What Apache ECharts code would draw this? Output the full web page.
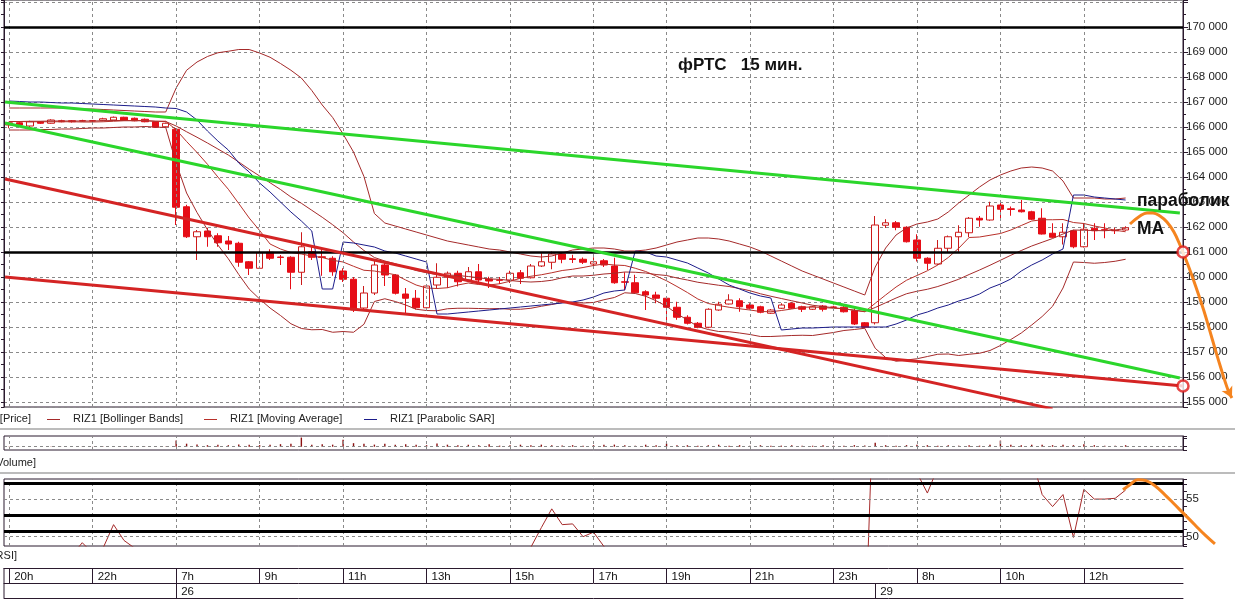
<!DOCTYPE html>
<html><head><meta charset="utf-8">
<script src="https://cdn.jsdelivr.net/npm/echarts@6/dist/echarts.min.js"></script>
<style>html,body{margin:0;padding:0;background:#fff}#c{width:1235px;height:600px}</style>
</head><body><div id="c"></div>
<script>
// ---------- categories (15-minute bars) ----------
const categories = [
'23 20:00','23 20:15','23 20:30','23 20:45','23 21:00','23 21:15','23 21:30','23 21:45','23 22:00','23 22:15','23 22:30','23 22:45','23 23:00','23 23:15','23 23:30','23 23:45',
'26 07:00','26 07:15','26 07:30','26 07:45','26 08:00','26 08:15','26 08:30','26 08:45','26 09:00','26 09:15','26 09:30','26 09:45','26 10:00','26 10:15','26 10:30','26 10:45',
'26 11:00','26 11:15','26 11:30','26 11:45','26 12:00','26 12:15','26 12:30','26 12:45','26 13:00','26 13:15','26 13:30','26 13:45','26 14:00','26 14:15','26 14:30','26 14:45',
'26 15:00','26 15:15','26 15:30','26 15:45','26 16:00','26 16:15','26 16:30','26 16:45','26 17:00','26 17:15','26 17:30','26 17:45','26 18:00','26 18:15','26 18:30',
'26 19:00','26 19:15','26 19:30','26 19:45','26 20:00','26 20:15','26 20:30','26 20:45','26 21:00','26 21:15','26 21:30','26 21:45','26 22:00','26 22:15','26 22:30','26 22:45',
'26 23:00','26 23:15','26 23:30','26 23:45',
'29 07:00','29 07:15','29 07:30','29 07:45','29 08:00','29 08:15','29 08:30','29 08:45','29 09:00','29 09:15','29 09:30','29 09:45','29 10:00','29 10:15','29 10:30','29 10:45',
'29 11:00','29 11:15','29 11:30','29 11:45','29 12:00','29 12:15','29 12:30','29 12:45','29 13:00',
'29 13:15','29 13:30','29 13:45','29 14:00','29 14:15'
];
const hourMarks = ['23 20:00','23 22:00','26 07:00','26 09:00','26 11:00','26 13:00','26 15:00','26 17:00','26 19:00','26 21:00','26 23:00','29 08:00','29 10:00','29 12:00'];
const dayMarks = ['26 07:00','29 07:00'];

// ---------- price bars [open, close, low, high] ----------
const ohlc = [
[166080,166170,165950,166210],[166170,166080,166040,166220],[166040,166210,166000,166250],[166210,166150,166120,166240],
[166150,166280,166130,166310],[166250,166210,166190,166290],[166250,166210,166180,166280],[166250,166240,166220,166290],
[166250,166240,166210,166280],[166270,166330,166250,166370],[166280,166390,166260,166420],[166390,166280,166250,166410],
[166350,166250,166230,166380],[166310,166210,166190,166340],[166210,165990,165960,166240],[166010,166150,165980,166180],
[165910,162790,162080,165960],[162810,161610,161560,162890],[161610,161810,160680,161880],[161840,161610,161210,161970],
[161650,161370,161210,161750],[161440,161320,161080,161640],[161350,160590,160410,161410],[160610,160350,160080,160640],
[160350,160970,160330,161090],[160990,160750,160680,161110],[160800,160780,160480,160880],[160790,160190,159510,160830],
[160190,161210,159680,161790],[161010,160790,160680,161280],[160810,160780,160050,161170],[160750,160210,160050,160830],
[160240,159910,159800,160350],[159910,158680,158600,160000],[158760,159360,158700,159640],[159360,160480,159280,160640],
[160480,160080,159640,160600],[160080,159350,159300,160120],[159320,159150,158560,159560],[159150,158770,158700,159480],
[158770,159640,158700,159720],[159680,159990,159560,160550],[159990,160150,159560,160220],[160150,159810,159620,160250],
[159880,160210,159800,160400],[160210,159880,159800,160520],[159920,159840,159560,160010],[159880,159870,159720,160000],
[159880,160150,159760,160250],[160170,159950,159720,160280],[159970,160440,159940,160520],[160440,160610,160400,160950],
[160590,160920,160310,161020],[160920,160710,160550,161000],[160730,160700,160560,160890],[160710,160590,160520,160780],
[160520,160610,160400,160790],[160650,160480,160400,160720],[160440,159770,159730,160770],[159810,159790,159470,160190],
[159770,159370,159330,160090],[159410,159280,158680,159470],[159280,159150,158950,159410],[159150,158790,158210,159190],
[158790,158390,158290,159010],[158390,158150,158100,158470],[158150,157990,157950,158200],[157990,158710,157950,158750],
[158680,158910,158650,159010],[158920,159080,158900,159310],[159050,158810,158610,159150],[158880,158750,158700,158950],
[158810,158590,158550,158850],[158550,158680,158520,158720],[158750,158880,158720,158950],[158950,158750,158720,158990],
[158810,158710,158600,158850],[158710,158810,158680,158850],[158840,158710,158620,158880],[158800,158790,158750,158850],
[158790,158610,158580,158840],[158650,158120,158080,158800],[158170,157990,157950,158200],[158170,162080,158100,162440],
[162070,162170,161960,162310],[162170,161990,161870,162240],[161990,161410,161380,162030],[161480,160750,160620,161710],
[160750,160550,160280,160790],[160520,161150,160480,161480],[161150,161610,160980,161660],[161610,161790,161010,162070],
[161770,162350,161590,162400],[162350,162280,162010,162440],[162280,162840,162250,163010],[162880,162710,162350,163080],
[162730,162700,162450,162820],[162680,162610,162580,163080],[162610,162310,162280,162650],[162350,161720,161700,162750],
[161750,161590,161560,162150],[161610,161790,161300,162150],[161850,161210,161150,161890],[161210,161910,161180,162150],
[161950,161850,161480,162150],[161890,161880,161550,162150],[161860,161850,161720,161970],[161880,161970,161850,162030]
];

// ---------- indicators ----------
const bbUpper = [166760,166760,166760,166760,166760,166760,166740,166720,166720,166700,166680,166660,166640,166620,166600,166600,
167560,168270,168600,168820,168970,169030,169100,169100,168960,168790,168540,168270,167960,167460,166880,166380,
165720,165000,164020,162540,162160,162040,161920,161800,161680,161560,161440,161360,161280,161200,161120,161080,
161000,160920,160840,160800,160840,160960,161080,161120,161160,161160,161120,161040,161040,161080,161160,161280,
161400,161480,161560,161560,161520,161440,161320,161200,161040,160840,160640,160440,160240,160080,159920,159760,
159600,159440,159280,160400,161160,161680,161960,162120,162200,162320,162600,162960,163280,163600,163880,164080,
164240,164360,164400,164360,164240,163840,163160,163160,163160,163120,163120,163160];
const bbMiddle = [166220,166220,166230,166230,166240,166240,166240,166240,166240,166250,166260,166260,166250,166250,166230,166220,
166040,165810,165590,165360,165120,164880,164600,164310,164040,163770,163500,163200,162950,162670,162390,162090,
161770,161400,161060,160780,160640,160530,160400,160260,160170,160100,160080,160060,160020,159970,159920,159910,
159860,159820,159800,159820,159870,159970,160040,160040,160070,160120,160150,160200,160190,160160,160100,160060,
159960,159880,159790,159730,159670,159620,159540,159450,159330,159230,159140,159050,158960,158870,158820,158770,
158730,158670,158620,158780,158970,159160,159330,159430,159510,159620,159760,159910,160100,160280,160470,160670,
160870,161060,161240,161390,161540,161720,161880,161870,161860,161850,161880,161940];
const bbLower = [165880,165880,165880,165900,165900,165920,165920,165940,165960,165960,165980,166000,166000,166020,166000,165980,
164560,163360,162580,161890,161280,160730,160100,159520,159120,158760,158460,158130,157940,157890,157900,157790,
157820,157790,158110,159020,159130,159020,158880,158710,158660,158650,158730,158750,158750,158740,158730,158740,
158710,158710,158750,158830,158900,158980,158990,158960,158980,159090,159180,159370,159340,159230,159050,158830,
158530,158280,158020,157900,157820,157810,157760,157700,157620,157620,157640,157660,157670,157660,157720,157780,
157860,157900,157950,157150,156780,156630,156680,156730,156820,156910,156920,156860,156910,156950,157060,157260,
157500,157760,158080,158420,158830,159560,160600,160580,160550,160580,160630,160710];
const maLine = [166220,166220,166210,166210,166210,166210,166210,166200,166200,166210,166230,166250,166260,166260,166230,166230,
165890,165420,164980,164510,164000,163510,162940,162360,161860,161320,161120,160980,160920,160840,160780,160670,
160600,160430,160270,160240,160170,160090,159880,159680,159560,159540,159570,159680,159760,159700,159680,159730,
159830,159950,160030,160090,160170,160260,160310,160380,160460,160520,160480,160460,160350,160220,160040,159850,
159620,159380,159120,158940,158860,158790,158730,158680,158620,158610,158660,158720,158790,158800,158780,158750,
158730,158670,158610,158950,159280,159600,159870,160060,160250,160480,160780,161150,161580,161600,161670,161740,
161880,162060,162240,162290,162290,162300,162180,162140,162040,161960,161870,161810];
const sarLine = [167040,167020,167000,167000,166980,166960,166960,166940,166920,166900,166880,166860,166840,166820,166800,166760,
166740,166600,166280,165840,165440,165080,164560,164200,163760,163400,163000,162600,162240,161840,159520,159520,
161400,161360,161280,161200,161040,160960,160840,160720,160600,158520,158520,158560,158600,158640,158680,158720,
158760,158800,158840,158880,158920,158960,159000,159080,159200,159360,159440,159480,161040,161000,160840,160800,
160680,160560,160360,160160,159920,159680,159520,159360,159240,159160,157880,157920,157960,157960,157980,158000,
158000,158000,158000,158000,158000,158120,158280,158480,158600,158760,158880,159040,159160,159320,159560,159720,
159920,160240,160480,160680,160920,161120,163280,163280,163200,163160,163120,163080];
const volume = [40,25,35,30,45,20,30,25,35,30,40,30,25,35,60,40,
1450,690,480,350,470,340,520,430,360,450,580,700,2100,440,560,470,
1620,810,700,480,690,450,560,430,350,720,460,330,470,340,580,240,
350,460,330,470,340,250,350,230,340,470,480,350,230,460,340,700,
350,340,230,360,470,240,350,220,340,230,240,350,230,220,340,230,
240,360,250,930,350,240,360,470,350,240,340,230,350,240,460,1400,
470,340,460,470,350,460,340,580,350,230,240,347];
const rsi = [45.0,44.2,46.1,45.3,47.2,46.0,47.5,49.2,47.8,48.5,51.6,49.5,48.5,46.4,41.2,44.6,
18.5,15.2,19.8,18.6,17.4,17.1,14.3,13.6,24.5,23.1,23.6,20.8,34.2,32.0,31.9,28.7,
27.2,22.0,29.4,39.6,37.2,33.1,32.2,30.6,38.8,41.5,42.7,40.6,43.8,41.9,41.6,42.0,
45.1,43.9,48.6,51.2,53.7,51.6,51.7,50.0,50.6,48.7,42.3,42.5,39.4,38.8,37.9,35.5,
33.1,31.8,31.0,39.7,41.8,43.5,41.2,40.7,39.4,40.8,42.9,41.6,41.2,42.3,41.2,42.1,
40.4,36.4,35.4,75.2,75.6,72.4,63.8,58.5,55.8,59.2,62.5,63.7,67.3,66.4,69.5,67.8,
67.6,66.5,60.5,55.6,54.0,55.6,49.9,56.3,55.0,55.0,55.1,56.2];

// ---------- levels & hand-drawn annotations (bar index, value) ----------
const priceLevels = [170000, 161000];
const rsiLevels = [57.14, 52.8, 50.67];
const rsiGridLevels = [55, 50];
const lastPrice = 161970;
const lastVolume = 347;
const greenLine1 = [[-0.4,167000],[112.2,162560]];
const greenLine2 = [[-0.4,166160],[112.2,155960]];
const redLine1 = [[-0.4,163920],[100.0,154725]];
const redLine2 = [[-0.4,160000],[112.5,155640]];
const orangePrice = [[107.42,162120],[108.38,162440],[109.05,162560],[109.62,162560],[110.29,162440],[110.96,162200],[111.63,161800],[112.21,161280],[112.98,160480],[113.74,159600],[114.51,158640],[115.27,157560],[116.04,156480],[116.81,155480],[117.19,155160]];
const orangeRsi = [[106.75,56.24],[107.42,56.91],[108.18,57.58],[108.95,57.45],[109.81,56.78],[110.77,55.57],[111.73,54.24],[112.69,52.9],[113.65,51.56],[114.6,50.23],[115.56,49.03]];
const circlePoints = [[112.5,161000],[112.5,155640]];

// ---------- layout ----------
const L = {left:4, plotW:1179, overW:1231, mainTop:0, mainH:407, volTop:436, volH:14, rsiTop:479, rsiH:67,
           priceMin:154800, priceMax:171080, rsiMin:48.76, rsiMax:57.67, volMin:-760, volMax:2460};
const N = categories.length;
const overMax = -0.5 + L.overW * N / L.plotW;
const FRAME = '#2b1a2e', GRIDC = '#8a8a8a';
const BB = '#a52a2a', MA = '#b8302a', SAR = '#1c1c8a', ORANGE = '#f5841f';
const fmtPrice = v => Math.floor(v/1000) + ' ' + String(Math.round(v%1000)).padStart(3,'0');

const chart = echarts.init(document.getElementById('c'), null, {renderer:'canvas'});
const dashV = hourMarks.map(c => ({xAxis: c}));
const catAxisBase = {type:'category', data:categories, boundaryGap:true};
const orangePriceData = orangePrice.map((p, i) => i === orangePrice.length - 1
  ? {value:p, symbol:'arrow', symbolSize:[9,11], symbolRotate:-153, itemStyle:{color:ORANGE}}
  : {value:p, symbol:'none'});

const option = {
  animation:false,
  backgroundColor:'#fff',
  textStyle:{fontFamily:'Liberation Sans, Arial, sans-serif'},
  grid:[
    {left:L.left, top:L.mainTop, width:L.plotW, height:L.mainH, show:true, borderColor:FRAME, borderWidth:1, outerBoundsMode:'none'},
    {left:L.left, top:L.volTop, width:L.plotW, height:L.volH, show:true, borderColor:FRAME, borderWidth:1, outerBoundsMode:'none'},
    {left:L.left, top:L.rsiTop, width:L.plotW, height:L.rsiH, show:true, borderColor:FRAME, borderWidth:1, outerBoundsMode:'none'},
    {left:L.left, top:L.mainTop, width:L.overW, height:L.mainH, show:false, outerBoundsMode:'none'},
    {left:L.left, top:L.rsiTop, width:L.overW, height:L.rsiH, show:false, outerBoundsMode:'none'}
  ],
  xAxis:[
    Object.assign({gridIndex:0, show:false}, catAxisBase),
    Object.assign({gridIndex:1, show:false}, catAxisBase),
    Object.assign({gridIndex:2, position:'bottom', offset:22,
      axisLine:{show:true, lineStyle:{color:FRAME, width:1}},
      axisTick:{show:true, alignWithLabel:true, length:15, lineStyle:{color:FRAME}, interval:(i,v)=>hourMarks.includes(v)},
      axisLabel:{show:true, interval:(i,v)=>hourMarks.includes(v), formatter:v=>parseInt(v.slice(3,5),10)+'h',
        align:'left', margin:3, padding:[0,0,0,5], fontSize:11.5, color:'#111'},
      splitLine:{show:false}}, catAxisBase),
    Object.assign({gridIndex:2, position:'bottom', offset:37,
      axisLine:{show:true, lineStyle:{color:FRAME, width:1}},
      axisTick:{show:true, alignWithLabel:true, length:15, lineStyle:{color:FRAME}, interval:(i,v)=>dayMarks.includes(v)},
      axisLabel:{show:true, interval:(i,v)=>dayMarks.includes(v), formatter:v=>v.slice(0,2),
        align:'left', margin:3, padding:[0,0,0,5], fontSize:11.5, color:'#111'},
      splitLine:{show:false}}, catAxisBase),
    Object.assign({gridIndex:2, position:'bottom', offset:52,
      axisLine:{show:true, lineStyle:{color:FRAME, width:1}}, axisTick:{show:false}, axisLabel:{show:false}}, catAxisBase),
    {type:'value', gridIndex:3, min:-0.5, max:overMax, show:false},
    {type:'value', gridIndex:4, min:-0.5, max:overMax, show:false}
  ],
  yAxis:[
    {type:'value', gridIndex:0, position:'right', min:L.priceMin, max:L.priceMax, splitNumber:16, scale:true,
      axisLine:{show:true, lineStyle:{color:FRAME}},
      axisTick:{show:true, length:5, lineStyle:{color:FRAME}},
      minorTick:{show:true, splitNumber:2, length:3, lineStyle:{color:FRAME}},
      axisLabel:{margin:3, fontSize:11.5, color:'#1a1a1a', showMinLabel:true, showMaxLabel:true,
        formatter:v=>(v%1000===0 && v>=155000 && v<=170000)?fmtPrice(v):''},
      splitLine:{show:true, lineStyle:{color:GRIDC, type:[3,3], width:1}}},
    {type:'value', gridIndex:0, position:'left', min:L.priceMin, max:L.priceMax, splitNumber:32, scale:true,
      axisLine:{show:true, lineStyle:{color:FRAME}}, axisTick:{show:true, length:3, lineStyle:{color:FRAME}},
      axisLabel:{show:false}, splitLine:{show:false}},
    {type:'value', gridIndex:1, position:'right', min:L.volMin, max:L.volMax, splitNumber:2,
      axisLine:{show:true, lineStyle:{color:FRAME}}, axisTick:{show:true, length:4, lineStyle:{color:FRAME}},
      axisLabel:{show:false}, splitLine:{show:false}},
    {type:'value', gridIndex:2, position:'right', min:L.rsiMin, max:L.rsiMax, splitNumber:9,
      axisLine:{show:true, lineStyle:{color:FRAME}}, axisTick:{show:true, length:4, lineStyle:{color:FRAME}},
      axisLabel:{margin:3, fontSize:11.5, color:'#1a1a1a', showMinLabel:true, showMaxLabel:true,
        formatter:v=>(Math.abs(v-50)<1e-6||Math.abs(v-55)<1e-6)?String(Math.round(v)):''},
      splitLine:{show:false}},
    {type:'value', gridIndex:3, min:L.priceMin, max:L.priceMax, show:false},
    {type:'value', gridIndex:4, min:L.rsiMin, max:L.rsiMax, show:false}
  ],
  series:[
    {type:'line', name:'vgrid-main', xAxisIndex:0, yAxisIndex:0, data:categories.map(()=>null), z:1, silent:true,
      markLine:{silent:true, symbol:['none','none'], label:{show:false}, lineStyle:{color:GRIDC, type:[3,3], width:1}, data:dashV}},
    {type:'candlestick', name:'RIZ1 [Price]', xAxisIndex:0, yAxisIndex:0, data:ohlc, barWidth:7, z:2,
      itemStyle:{color:'#ffffff', color0:'#e60d16', borderColor:'#cc1a1a', borderColor0:'#e60d16', borderWidth:1},
      markLine:{silent:true, symbol:['none','none'], z:5,
        data:[
          ...priceLevels.map(p=>({yAxis:p, lineStyle:{color:'#000', width:2.5, type:'solid'}, label:{show:false}})),
          {yAxis:lastPrice, lineStyle:{width:0, opacity:0}, label:{show:true, position:'end', distance:4,
            formatter:()=>fmtPrice(lastPrice), color:'#c80000', fontSize:12, backgroundColor:'#fff',
            borderColor:'#5a2a3a', borderWidth:1, padding:[2,3,1,3]}}
        ]}},
    {type:'line', name:'RIZ1 [Bollinger Bands] U', xAxisIndex:0, yAxisIndex:0, data:bbUpper, symbol:'none', lineStyle:{color:BB, width:1}, z:3, silent:true},
    {type:'line', name:'RIZ1 [Bollinger Bands] M', xAxisIndex:0, yAxisIndex:0, data:bbMiddle, symbol:'none', lineStyle:{color:BB, width:1}, z:3, silent:true},
    {type:'line', name:'RIZ1 [Bollinger Bands] L', xAxisIndex:0, yAxisIndex:0, data:bbLower, symbol:'none', lineStyle:{color:BB, width:1}, z:3, silent:true},
    {type:'line', name:'RIZ1 [Moving Average]', xAxisIndex:0, yAxisIndex:0, data:maLine, symbol:'none', lineStyle:{color:MA, width:1}, z:3, silent:true},
    {type:'line', name:'RIZ1 [Parabolic SAR]', xAxisIndex:0, yAxisIndex:0, data:sarLine, symbol:'none', lineStyle:{color:SAR, width:1}, z:3, silent:true},
    {type:'line', name:'vgrid-vol', xAxisIndex:1, yAxisIndex:2, data:categories.map(()=>null), z:1, silent:true,
      markLine:{silent:true, symbol:['none','none'], label:{show:false}, lineStyle:{color:GRIDC, type:[3,3], width:1},
        data:[...dashV, {yAxis:0}]}},
    {type:'bar', name:'RIZ1 [Volume]', xAxisIndex:1, yAxisIndex:2, data:volume, barWidth:1.4, itemStyle:{color:'#8a1010'}, z:2, silent:true,
      markLine:{silent:true, symbol:['none','none'],
        data:[{yAxis:lastVolume, lineStyle:{width:0, opacity:0}, label:{show:true, position:'end', distance:5,
          formatter:()=>String(lastVolume), color:'#c80000', fontSize:12, backgroundColor:'#fff',
          borderColor:'#5a2a3a', borderWidth:1, padding:[2,2,1,2]}}]}},
    {type:'line', name:'vgrid-rsi', xAxisIndex:2, yAxisIndex:3, data:categories.map(()=>null), z:1, silent:true,
      markLine:{silent:true, symbol:['none','none'], label:{show:false}, lineStyle:{color:GRIDC, type:[3,3], width:1},
        data:[...dashV, ...rsiGridLevels.map(v=>({yAxis:v}))]}},
    {type:'line', name:'RIZ1 [RSI]', xAxisIndex:2, yAxisIndex:3, data:rsi, symbol:'none', clip:true,
      lineStyle:{color:'#a52a2a', width:1}, z:3, silent:true,
      markLine:{silent:true, symbol:['none','none'], label:{show:false},
        data:rsiLevels.map(v=>({yAxis:v, lineStyle:{color:'#000', width:3, type:'solid'}}))}},
    {type:'line', xAxisIndex:5, yAxisIndex:4, data:greenLine1, symbol:'none', clip:true, lineStyle:{color:'#2bd62b', width:3}, z:6, silent:true},
    {type:'line', xAxisIndex:5, yAxisIndex:4, data:greenLine2, symbol:'none', clip:true, lineStyle:{color:'#2bd62b', width:3}, z:6, silent:true},
    {type:'line', xAxisIndex:5, yAxisIndex:4, data:redLine1, symbol:'none', clip:true, lineStyle:{color:'#d42424', width:3}, z:6, silent:true},
    {type:'line', xAxisIndex:5, yAxisIndex:4, data:redLine2, symbol:'none', clip:true, lineStyle:{color:'#d42424', width:3}, z:6, silent:true},
    {type:'line', xAxisIndex:5, yAxisIndex:4, data:orangePriceData, showSymbol:true, smooth:0.4, clip:false, lineStyle:{color:ORANGE, width:3}, itemStyle:{color:ORANGE}, z:7, silent:true},
    {type:'line', xAxisIndex:6, yAxisIndex:5, data:orangeRsi, symbol:'none', smooth:0.4, clip:false, lineStyle:{color:ORANGE, width:3}, z:7, silent:true},
    {type:'scatter', xAxisIndex:5, yAxisIndex:4, data:circlePoints, symbol:'circle', symbolSize:11, clip:false,
      itemStyle:{color:'#ffffff', borderColor:'#e01818', borderWidth:2.5}, z:8, silent:true}
  ],
  graphic:{elements:[
    {type:'line', shape:{x1:0, y1:429, x2:1235, y2:429}, style:{stroke:'#a6a6a6', lineWidth:1.5}, silent:true},
    {type:'line', shape:{x1:0, y1:473, x2:1235, y2:473}, style:{stroke:'#a6a6a6', lineWidth:1.5}, silent:true},
    {type:'line', shape:{x1:L.left, y1:568, x2:L.left, y2:598}, style:{stroke:FRAME, lineWidth:1}, silent:true},
    {type:'text', x:31, y:419, style:{text:'RIZ1 [Price]', align:'right', verticalAlign:'middle', fontSize:11, fill:'#222', fontFamily:'Liberation Sans'}, silent:true},
    {type:'line', shape:{x1:47, y1:419.5, x2:60, y2:419.5}, style:{stroke:BB, lineWidth:1}, silent:true},
    {type:'text', x:73, y:419, style:{text:'RIZ1 [Bollinger Bands]', verticalAlign:'middle', fontSize:11, fill:'#222', fontFamily:'Liberation Sans'}, silent:true},
    {type:'line', shape:{x1:204, y1:419.5, x2:217, y2:419.5}, style:{stroke:MA, lineWidth:1}, silent:true},
    {type:'text', x:230, y:419, style:{text:'RIZ1 [Moving Average]', verticalAlign:'middle', fontSize:11, fill:'#222', fontFamily:'Liberation Sans'}, silent:true},
    {type:'line', shape:{x1:364, y1:419.5, x2:377, y2:419.5}, style:{stroke:SAR, lineWidth:1}, silent:true},
    {type:'text', x:390, y:419, style:{text:'RIZ1 [Parabolic SAR]', verticalAlign:'middle', fontSize:11, fill:'#222', fontFamily:'Liberation Sans'}, silent:true},
    {type:'text', x:36, y:463, style:{text:'RIZ1 [Volume]', align:'right', verticalAlign:'middle', fontSize:11, fill:'#222', fontFamily:'Liberation Sans'}, silent:true},
    {type:'text', x:17, y:556, style:{text:'RIZ1 [RSI]', align:'right', verticalAlign:'middle', fontSize:11, fill:'#222', fontFamily:'Liberation Sans'}, silent:true},
    {type:'text', x:678, y:65, style:{text:'фРТС   15 мин.', verticalAlign:'middle', fontSize:17, fontWeight:'bold', fill:'#111', fontFamily:'Liberation Sans'}, silent:true, z:10},
    {type:'text', x:1137, y:201, style:{text:'параболик', verticalAlign:'middle', fontSize:17.5, fontWeight:'bold', fill:'#111', fontFamily:'Liberation Sans'}, silent:true, z:10},
    {type:'text', x:1137, y:229, style:{text:'МА', verticalAlign:'middle', fontSize:17.5, fontWeight:'bold', fill:'#111', fontFamily:'Liberation Sans'}, silent:true, z:10}
  ]}
};
chart.setOption(option);
</script></body></html>
